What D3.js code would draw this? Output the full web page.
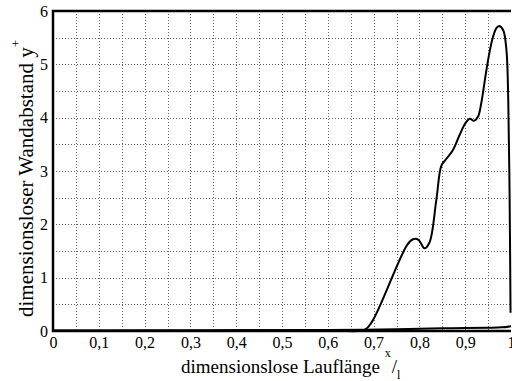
<!DOCTYPE html>
<html>
<head>
<meta charset="utf-8">
<script src="https://cdn.jsdelivr.net/npm/d3@7"></script>
<style>
  html, body { margin: 0; padding: 0; background: #fff; }
  svg { display: block; }
  text { font-family: "Liberation Serif", "Times New Roman", serif; fill: #000; }
</style>
</head>
<body>
<svg id="chart" width="512" height="381"></svg>
<script>
// Run length x/l along the upper surface and the wall distance y+
const upperX = [0, 0.1, 0.2, 0.3, 0.4, 0.5, 0.6, 0.68, 0.697, 0.773, 0.786, 0.798, 0.811, 0.822, 0.837, 0.848, 0.858, 0.873, 0.888, 0.900, 0.910, 0.919, 0.928, 0.935, 0.943, 0.950, 0.959, 0.968, 0.974, 0.983, 0.990, 0.994, 0.997, 0.999];
const upperY = [0.01, 0.01, 0.01, 0.01, 0.012, 0.014, 0.016, 0.02, 0.18, 1.61, 1.72, 1.71, 1.55, 1.66, 2.46, 3.10, 3.22, 3.39, 3.68, 3.89, 3.98, 3.94, 4.02, 4.27, 4.71, 5.08, 5.46, 5.68, 5.72, 5.64, 5.27, 4.33, 2.46, 0.34];

// Lower surface stays close to the wall
const lowerX = [0, 0.2, 0.4, 0.5, 0.6, 0.68, 0.75, 0.8, 0.85, 0.9, 0.95, 0.98, 1.0];
const lowerY = [0.005, 0.008, 0.012, 0.016, 0.02, 0.025, 0.035, 0.042, 0.05, 0.056, 0.062, 0.068, 0.09];

const xTicks = [0, 0.1, 0.2, 0.3, 0.4, 0.5, 0.6, 0.7, 0.8, 0.9, 1];
const yTicks = [0, 1, 2, 3, 4, 5, 6];
const xGrid = d3.range(0, 21).map(i => i * 0.05);
const yGrid = d3.range(0, 13).map(i => i * 0.5);

const svg = d3.select("#chart");
const m = { left: 53, top: 11, right: 511, bottom: 331 };

const x = d3.scaleLinear().domain([0, 1]).range([m.left, m.right]);
const y = d3.scaleLinear().domain([0, 6]).range([m.bottom, m.top]);

// dotted grid
const grid = svg.append("g").attr("stroke", "#666").attr("stroke-width", 1)
  .attr("stroke-dasharray", "1,2");
grid.selectAll("line.gx").data(xGrid.slice(1, -1)).join("line")
  .attr("x1", d => Math.round(x(d)) + 0.5).attr("x2", d => Math.round(x(d)) + 0.5)
  .attr("y1", m.top).attr("y2", m.bottom);
grid.selectAll("line.gy").data(yGrid.slice(1, -1)).join("line")
  .attr("y1", d => Math.round(y(d)) + 0.5).attr("y2", d => Math.round(y(d)) + 0.5)
  .attr("x1", m.left).attr("x2", m.right);

// curves
svg.append("path")
  .datum(lowerX.map((v, i) => [v, lowerY[i]]))
  .attr("d", d3.line().x(d => x(d[0])).y(d => y(d[1])).curve(d3.curveMonotoneX))
  .attr("fill", "none").attr("stroke", "#000").attr("stroke-width", 2);
svg.append("path")
  .datum(upperX.map((v, i) => [v, upperY[i]]))
  .attr("d", d3.line().x(d => x(d[0])).y(d => y(d[1])).curve(d3.curveCatmullRom.alpha(0.5)))
  .attr("fill", "none").attr("stroke", "#000").attr("stroke-width", 2);

// frame (left, top, bottom)
svg.append("path")
  .attr("d", `M${m.right},${m.top}H${m.left}V${m.bottom}H${m.right}`)
  .attr("fill", "none").attr("stroke", "#000").attr("stroke-width", 2.5);

// tick labels via d3 axes (tick marks hidden)
const fmt = d => (d === 0 || d === 1) ? String(d) : d3.format(".1f")(d).replace(".", ",");
const xAxis = svg.append("g").attr("transform", `translate(0,${m.bottom})`)
  .call(d3.axisBottom(x).tickValues(xTicks).tickFormat(fmt).tickSize(0).tickPadding(6));
const yAxis = svg.append("g").attr("transform", `translate(${m.left},0)`)
  .call(d3.axisLeft(y).tickValues(yTicks).tickFormat(d3.format("d")).tickSize(0).tickPadding(5));
[xAxis, yAxis].forEach(a => {
  a.select(".domain").remove();
  a.attr("font-family", null).attr("font-size", null);
  a.selectAll("text").style("font-family", "'Liberation Serif', serif").style("font-size", "16px").attr("fill", "#000");
});

// axis titles
const xt = svg.append("text").attr("x", 181).attr("y", 373).style("font-size", "19px");
xt.append("tspan").text("dimensionslose Lauflänge ");
xt.append("tspan").style("font-size", "12px").attr("dy", -16).text("x");
xt.append("tspan").style("font-size", "19px").attr("dx", 1).attr("dy", 16).text("/");
xt.append("tspan").style("font-size", "12px").attr("dy", 6).text("l");

const yt = svg.append("text").attr("transform", "translate(33,317) rotate(-90)").style("font-size", "21px");
yt.append("tspan").text("dimensionsloser Wandabstand y");
yt.append("tspan").style("font-size", "13px").attr("dy", -13).text("+");
</script>
</body>
</html>
